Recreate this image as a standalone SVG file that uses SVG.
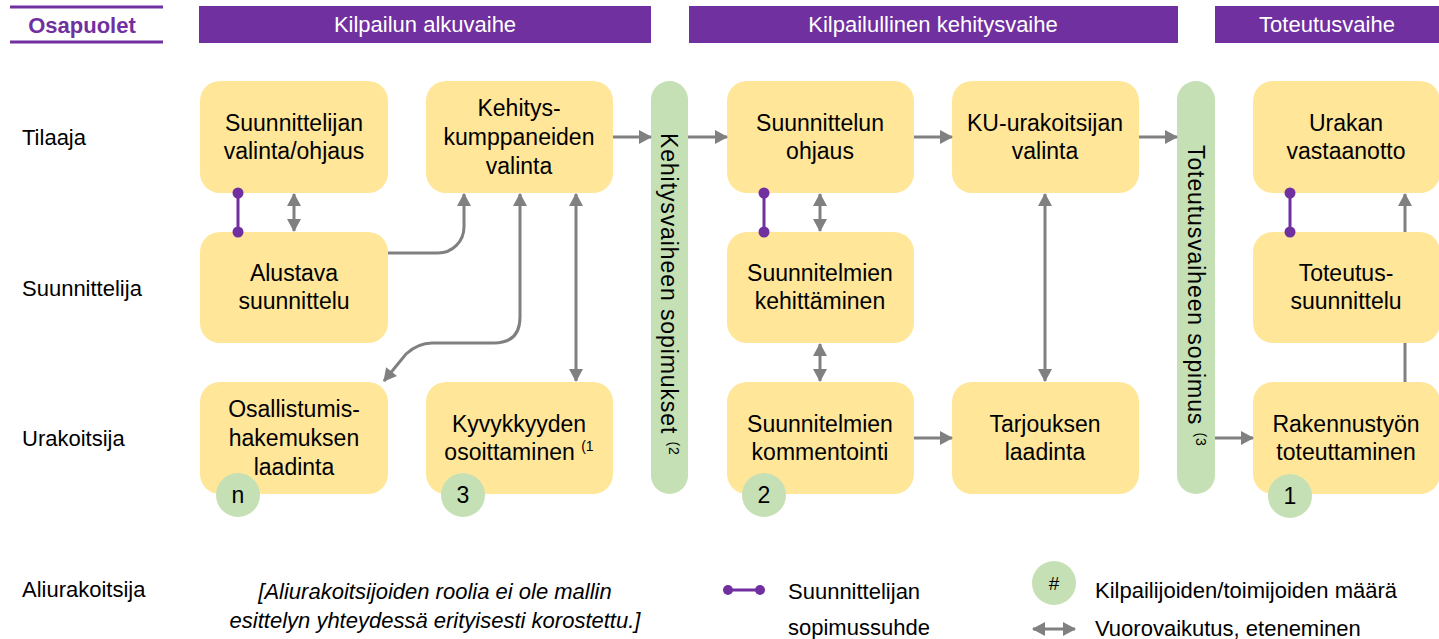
<svg xmlns="http://www.w3.org/2000/svg" width="1439" height="639" viewBox="0 0 1439 639">
<style>
text{font-family:"Liberation Sans",Arial,sans-serif;fill:#000}
.t{font-size:23px;text-anchor:middle}
.lbl{font-size:22px}
.hdr{font-size:22px;fill:#fff;text-anchor:middle}
.box{fill:#FFE699}
.bar{fill:#C5E0B4}
.cnt{fill:#C5E0B4}
.sup{font-size:14px}
.vt{font-size:23px;letter-spacing:0.9px}
.arr{fill:none;stroke:#808080;stroke-width:3}
.pl{stroke:#7030A0;stroke-width:3}
.dot{fill:#7030A0}
</style>
<defs>
<marker id="ah" markerUnits="userSpaceOnUse" markerWidth="14" markerHeight="14" viewBox="0 0 13 14" refX="12" refY="7" orient="auto-start-reverse">
<path d="M0,0 L13,7 L0,14 z" fill="#808080"/>
</marker>
</defs>
<rect width="1439" height="639" fill="#fff"/>

<g id="header">
<line x1="10" y1="7" x2="163" y2="7" stroke="#7030A0" stroke-width="3"/>
<line x1="10" y1="42" x2="163" y2="42" stroke="#7030A0" stroke-width="3"/>
<text x="82" y="33" style="font-size:22px;font-weight:bold;fill:#7030A0;text-anchor:middle">Osapuolet</text>
<rect x="199" y="6" width="452" height="37" fill="#7030A0"/>
<text class="hdr" x="425" y="32">Kilpailun alkuvaihe</text>
<rect x="689" y="6" width="489" height="37" fill="#7030A0"/>
<text class="hdr" x="933" y="32">Kilpailullinen kehitysvaihe</text>
<rect x="1215" y="6" width="224" height="37" fill="#7030A0"/>
<text class="hdr" x="1327" y="32">Toteutusvaihe</text>
</g>

<g id="rowlabels">
<text class="lbl" x="22" y="145">Tilaaja</text>
<text class="lbl" x="22" y="296">Suunnittelija</text>
<text class="lbl" x="22" y="446">Urakoitsija</text>
<text class="lbl" x="22" y="597">Aliurakoitsija</text>
</g>

<g id="bar1">
<rect class="bar" x="651" y="81" width="37" height="413" rx="18.5"/>
<text class="vt" x="661" y="133" transform="rotate(90 661 133)">Kehitysvaiheen sopimukset <tspan class="sup" dy="-8">(2</tspan></text>
</g>
<g id="bar2">
<rect class="bar" x="1177" y="81" width="38" height="413" rx="19"/>
<text class="vt" x="1188" y="145" transform="rotate(90 1188 145)">Toteutusvaiheen sopimus <tspan class="sup" dy="-8">(3</tspan></text>
</g>

<g id="n_suunnittelijan_valinta">
<rect class="box" x="200" y="81" width="188" height="112" rx="20"/>
<text class="t" x="294" y="131">Suunnittelijan</text><text class="t" x="294" y="159">valinta/ohjaus</text>
</g>
<g id="n_alustava">
<rect class="box" x="200" y="232" width="188" height="111" rx="20"/>
<text class="t" x="294" y="281">Alustava</text><text class="t" x="294" y="309">suunnittelu</text>
</g>
<g id="n_osallistumis">
<rect class="box" x="200" y="382" width="188" height="112" rx="20"/>
<text class="t" x="294" y="417">Osallistumis-</text><text class="t" x="294" y="446">hakemuksen</text><text class="t" x="294" y="475">laadinta</text>
<circle class="cnt" cx="238" cy="495" r="22"/><text class="t" x="238" y="503">n</text>
</g>
<g id="n_kehityskumppanit">
<rect class="box" x="426" y="81" width="187" height="112" rx="20"/>
<text class="t" x="519" y="116">Kehitys-</text><text class="t" x="519" y="145">kumppaneiden</text><text class="t" x="519" y="174">valinta</text>
</g>
<g id="n_kyvykkyys">
<rect class="box" x="426" y="382" width="187" height="112" rx="20"/>
<text class="t" x="519" y="432">Kyvykkyyden</text><text class="t" x="519" y="460">osoittaminen <tspan class="sup" dy="-9">(1</tspan></text>
<circle class="cnt" cx="463" cy="495" r="22"/><text class="t" x="463" y="503">3</text>
</g>
<g id="n_suunnittelun_ohjaus">
<rect class="box" x="727" y="81" width="187" height="112" rx="20"/>
<text class="t" x="820" y="131">Suunnittelun</text><text class="t" x="820" y="159">ohjaus</text>
</g>
<g id="n_kehittaminen">
<rect class="box" x="727" y="232" width="187" height="111" rx="20"/>
<text class="t" x="820" y="281">Suunnitelmien</text><text class="t" x="820" y="309">kehittäminen</text>
</g>
<g id="n_kommentointi">
<rect class="box" x="727" y="382" width="187" height="112" rx="20"/>
<text class="t" x="820" y="432">Suunnitelmien</text><text class="t" x="820" y="460">kommentointi</text>
<circle class="cnt" cx="764" cy="495" r="22"/><text class="t" x="764" y="503">2</text>
</g>
<g id="n_ku_valinta">
<rect class="box" x="952" y="81" width="187" height="112" rx="20"/>
<text class="t" x="1045" y="131">KU-urakoitsijan</text><text class="t" x="1045" y="159">valinta</text>
</g>
<g id="n_tarjous">
<rect class="box" x="952" y="382" width="187" height="112" rx="20"/>
<text class="t" x="1045" y="432">Tarjouksen</text><text class="t" x="1045" y="460">laadinta</text>
</g>
<g id="n_vastaanotto">
<rect class="box" x="1253" y="81" width="187" height="112" rx="20"/>
<text class="t" x="1346" y="131">Urakan</text><text class="t" x="1346" y="159">vastaanotto</text>
</g>
<g id="n_toteutussuunnittelu">
<rect class="box" x="1253" y="232" width="187" height="111" rx="20"/>
<text class="t" x="1346" y="281">Toteutus-</text><text class="t" x="1346" y="309">suunnittelu</text>
</g>
<g id="n_rakennustyo">
<rect class="box" x="1253" y="382" width="187" height="112" rx="20"/>
<text class="t" x="1346" y="432">Rakennustyön</text><text class="t" x="1346" y="460">toteuttaminen</text>
<circle class="cnt" cx="1290" cy="496" r="22"/><text class="t" x="1290" y="504">1</text>
</g>

<g id="connectors">
<line class="arr" x1="613" y1="137" x2="651" y2="137" marker-end="url(#ah)"/>
<line class="arr" x1="688" y1="137" x2="727" y2="137" marker-end="url(#ah)"/>
<line class="arr" x1="914" y1="137" x2="952" y2="137" marker-end="url(#ah)"/>
<line class="arr" x1="1139" y1="137" x2="1177" y2="137" marker-end="url(#ah)"/>
<line class="arr" x1="914" y1="438" x2="952" y2="438" marker-end="url(#ah)"/>
<line class="arr" x1="1215" y1="438" x2="1253" y2="438" marker-end="url(#ah)"/>
<line class="arr" x1="294" y1="194" x2="294" y2="231" marker-start="url(#ah)" marker-end="url(#ah)"/>
<path class="arr" d="M388,253 H438 A26,26 0 0 0 464,227 V194" marker-end="url(#ah)"/>
<path class="arr" d="M520,194 V317 Q520,343 494,343 H432 Q418,343 406,354 L384,381" marker-start="url(#ah)" marker-end="url(#ah)"/>
<line class="arr" x1="576" y1="194" x2="576" y2="381" marker-start="url(#ah)" marker-end="url(#ah)"/>
<line class="arr" x1="820" y1="194" x2="820" y2="231" marker-start="url(#ah)" marker-end="url(#ah)"/>
<line class="arr" x1="820" y1="344" x2="820" y2="381" marker-start="url(#ah)" marker-end="url(#ah)"/>
<line class="arr" x1="1045" y1="194" x2="1045" y2="381" marker-start="url(#ah)" marker-end="url(#ah)"/>
<line class="arr" x1="1405" y1="232" x2="1405" y2="194" marker-end="url(#ah)"/>
<line class="arr" x1="1405" y1="382" x2="1405" y2="343"/>
<g id="contracts">
<line class="pl" x1="238" y1="193" x2="238" y2="232"/><circle class="dot" cx="238" cy="193" r="5.5"/><circle class="dot" cx="238" cy="232" r="5.5"/>
<line class="pl" x1="764" y1="193" x2="764" y2="232"/><circle class="dot" cx="764" cy="193" r="5.5"/><circle class="dot" cx="764" cy="232" r="5.5"/>
<line class="pl" x1="1290" y1="193" x2="1290" y2="232"/><circle class="dot" cx="1290" cy="193" r="5.5"/><circle class="dot" cx="1290" cy="232" r="5.5"/>
</g>
</g>

<g id="note">
<text x="435" y="599" style="font-size:22px;font-style:italic;text-anchor:middle">[Aliurakoitsijoiden roolia ei ole mallin</text>
<text x="435" y="628" style="font-size:22px;font-style:italic;text-anchor:middle">esittelyn yhteydessä erityisesti korostettu.]</text>
</g>

<g id="legend">
<line class="pl" x1="727" y1="590" x2="761" y2="590"/><circle class="dot" cx="728" cy="590" r="5"/><circle class="dot" cx="760" cy="590" r="5"/>
<text class="lbl" x="788" y="599">Suunnittelijan</text>
<text class="lbl" x="788" y="635">sopimussuhde</text>
<circle class="cnt" cx="1054" cy="583" r="22"/>
<text x="1054" y="590" style="font-size:19px;text-anchor:middle">#</text>
<text class="lbl" x="1095" y="598">Kilpailijoiden/toimijoiden määrä</text>
<line class="arr" x1="1033" y1="629" x2="1075" y2="629" marker-start="url(#ah)" marker-end="url(#ah)"/>
<text class="lbl" x="1095" y="636">Vuorovaikutus, eteneminen</text>
</g>
</svg>
